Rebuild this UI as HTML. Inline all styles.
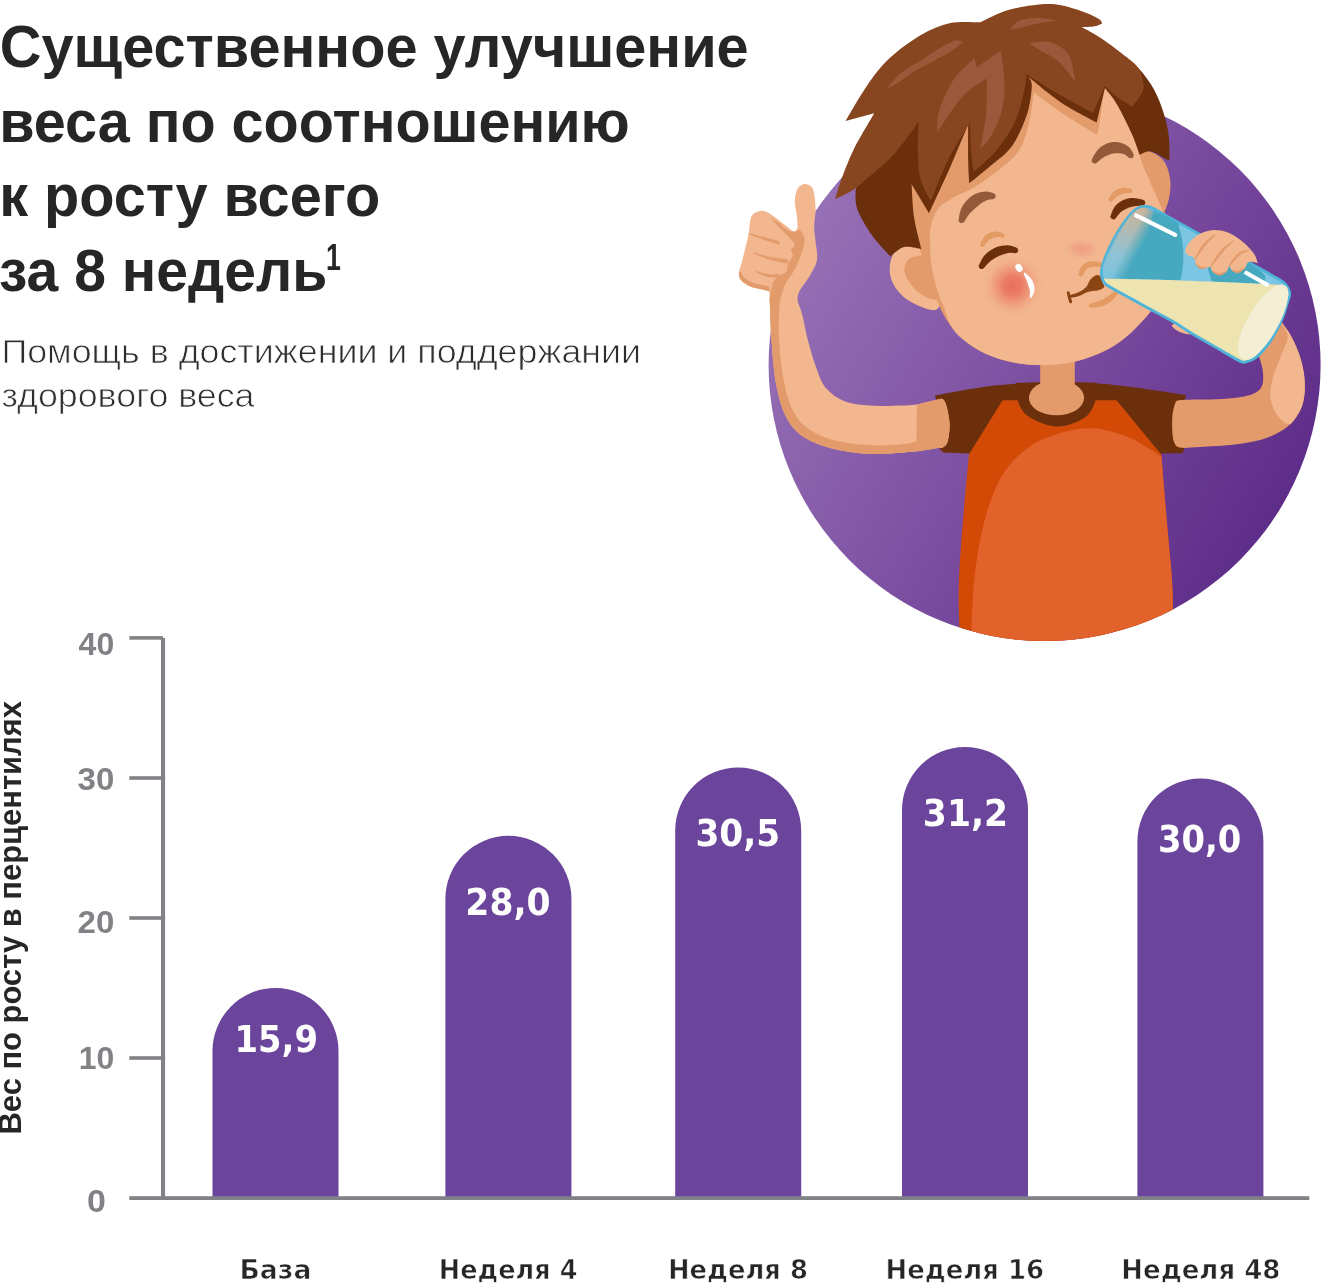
<!DOCTYPE html>
<html lang="ru"><head><meta charset="utf-8"><title>Существенное улучшение веса</title>
<style>html,body{margin:0;padding:0;background:#fff}body{width:1325px;height:1284px;overflow:hidden}svg{display:block}</style>
</head><body>
<svg width="1325" height="1284" viewBox="0 0 1325 1284">
<rect width="1325" height="1284" fill="#fff"/>
<defs>
<linearGradient id="cg" gradientUnits="userSpaceOnUse" x1="790" y1="240" x2="1290" y2="540"><stop offset="0" stop-color="#9772B6"/><stop offset="0.5" stop-color="#7B4DA0"/><stop offset="1" stop-color="#5B2A87"/></linearGradient>
<clipPath id="cc"><circle cx="1044.6" cy="365" r="276"/></clipPath>
<radialGradient id="blush"><stop offset="0" stop-color="#EA705C" stop-opacity="1"/><stop offset="0.3" stop-color="#EB7762" stop-opacity="0.92"/><stop offset="0.6" stop-color="#ED8A70" stop-opacity="0.5"/><stop offset="0.8" stop-color="#F09A7C" stop-opacity="0.18"/><stop offset="1" stop-color="#F2A283" stop-opacity="0"/></radialGradient>
<radialGradient id="nose"><stop offset="0" stop-color="#EF9982" stop-opacity="0.9"/><stop offset="0.5" stop-color="#F0A088" stop-opacity="0.65"/><stop offset="1" stop-color="#F2AE92" stop-opacity="0"/></radialGradient>
<linearGradient id="gl1" gradientUnits="userSpaceOnUse" x1="1146" y1="210" x2="1112" y2="276"><stop offset="0" stop-color="#E0B697" stop-opacity="1"/><stop offset="0.35" stop-color="#C2BDB2" stop-opacity="1"/><stop offset="0.7" stop-color="#9CC6D6" stop-opacity="1"/><stop offset="1" stop-color="#86C8E2" stop-opacity="1"/></linearGradient>
<linearGradient id="mkg" gradientUnits="userSpaceOnUse" x1="1116" y1="236" x2="1141" y2="249"><stop offset="0" stop-color="#fff" stop-opacity="0.55"/><stop offset="0.12" stop-color="#fff" stop-opacity="0.9"/><stop offset="0.5" stop-color="#fff" stop-opacity="0.85"/><stop offset="0.98" stop-color="#fff" stop-opacity="0"/></linearGradient>
<mask id="mk" maskUnits="userSpaceOnUse" x="1090" y="195" width="80" height="100"><rect x="1090" y="195" width="80" height="100" fill="url(#mkg)"/></mask>
</defs>
<circle cx="1044.6" cy="365" r="276" fill="url(#cg)"/>
<g clip-path="url(#cc)">
<path d="M934.8 395.4C942.9 394 967.5 389 983.4 386.9C999.2 384.8 1017.8 383.5 1029.9 382.7C1042 381.9 1046.2 382.2 1056 382.2C1065.8 382.2 1076.5 381.9 1089 382.7C1101.5 383.5 1115.1 384.8 1131.3 386.9C1147.5 388.9 1176.9 393.6 1186 395C1185.1 399.2 1180.8 410.8 1180.5 420C1180.2 429.2 1183.8 445 1184.5 450L1182 453.3L1161 453.6L968.6 453.6L943.2 452.6L939.5 448.8C939.8 444 942.3 428.9 941.5 420C940.7 411.1 935.9 399.5 934.8 395.4Z" fill="#6B2F0C" />
<path d="M1002.6 400.3L1116.5 400.3L1161.4 454.8C1161.8 459.7 1162.6 471.4 1163.7 484.3C1164.7 497.3 1166.4 516.4 1167.8 532.5C1169.2 548.5 1171.2 566.7 1172 580.6C1172.8 594.5 1173.1 603.6 1172.6 615.8C1172.2 628.1 1170 647.9 1169.4 654.3L960.9 654.3C960.6 646.3 958.9 621.2 958.7 606.2C958.5 591.3 958.8 581.1 959.7 564.5C960.6 548 962.6 525.2 964.2 506.8C965.7 488.4 968.2 463 969 454.2L1002.6 400.3Z" fill="#D24A05" />
<path d="M971.2 654.3C971.4 645.8 971.5 619.1 972.5 603C973.5 587 974.6 573.1 977 558.1C979.3 543.1 982.3 527.1 986.6 513.2C990.9 499.3 995.7 485.7 1002.6 474.7C1009.6 463.8 1018.7 454.4 1028.3 447.5C1037.9 440.5 1049.7 436.2 1060.4 433C1071.1 429.8 1081.8 427.8 1092.5 428.2C1103.1 428.6 1115.4 432.4 1124.5 435.6C1133.6 438.8 1140.8 444 1147 447.5C1153.1 450.9 1159 454.7 1161.4 456.1C1161.8 460.8 1162.6 471.6 1163.7 484.3C1164.7 497.1 1166.4 516.4 1167.8 532.5C1169.2 548.5 1171.2 566.7 1172 580.6C1172.8 594.5 1173.1 603.6 1172.6 615.8C1172.2 628.1 1170 647.9 1169.4 654.3L971.2 654.3Z" fill="#E2622B" />
</g>
<path d="M1016.1 382.7C1016.3 385.5 1015.4 394 1017.4 399.7C1019.4 405.3 1021.7 411.8 1028.3 416.3C1034.9 420.8 1047.7 426.5 1057.2 426.6C1066.7 426.7 1079 421.5 1085.4 417C1091.8 412.5 1093.7 405.4 1095.7 399.7C1097.6 393.9 1096.7 385.5 1096.9 382.7L1016.1 382.7Z" fill="#6B2F0C" />
<path d="M1040.2 352.8L1074.8 352.8L1074.8 397.7L1040.2 397.7L1040.2 352.8Z" fill="#E39B6B" />
<ellipse cx="1056.5" cy="397.7" rx="27.6" ry="17.6" fill="#E39B6B"/>
<path d="M805.9 184.2C807.7 184.5 810.5 185.2 812 187.2C813.4 189.2 813.9 192.4 814.5 196.3C815.1 200.2 815.6 205.4 815.5 210.5C815.5 215.5 814.2 221.6 814.2 226.7C814.2 231.7 815 236 815.5 240.9C816 245.7 817.3 251.8 817.2 256C817.2 260.2 816.7 262.1 815 266.2C813.3 270.2 809.5 276.3 806.9 280.3C804.4 284.4 801.4 287.2 799.8 290.4C798.3 293.7 797.2 295.9 797.6 300C798 304 800.6 307.9 802.2 314.5C803.9 321.1 805.4 330.7 807.7 339.4C810 348.2 812.9 358.8 816 366.9C819 375 821.1 382.3 825.9 388C830.7 393.8 837.3 398.3 844.6 401.2C851.9 404.2 861.2 404.7 869.5 405.5C877.8 406.2 886.6 405.9 894.5 405.7C902.3 405.6 909.8 405.5 916.9 404.5C923.9 403.5 932.4 400.6 936.8 399.8C941.2 398.9 941.5 398.2 943.2 399.6C944.9 401 945.9 403.8 947 408C948.1 412.2 949.5 419.3 949.6 425C949.7 430.6 948.7 438.1 947.5 441.9C946.3 445.6 944.3 446.4 942.5 447.5C940.7 448.6 941.5 447.7 936.8 448.3C932.1 449 924.8 450.6 914.4 451.6C904 452.5 887 454.3 874.5 454.1C862.1 453.9 850.8 452.8 839.6 450.3C828.4 447.9 816 444.3 807.2 439.1C798.5 433.9 792.5 428.3 787.3 419.2C782.1 410.1 778.8 398.4 776.1 384.3C773.4 370.2 772.1 348.2 771.1 334.5C770.1 320.7 770.1 309.2 769.8 302.1C769.6 294.9 770.7 293.6 769.5 291.5C768.2 289.4 765.6 290.3 762.4 289.4C759.2 288.6 753.8 287.9 750.2 286.4C746.7 284.9 743 282.5 741.1 280.3C739.2 278.1 738.7 276.4 738.9 273.2C739.1 270 740.6 267.3 742.1 261.1C743.7 254.9 746.9 242.5 748.2 235.8C749.6 229 749.5 224.1 750.2 220.6C751 217.1 751.3 216.1 752.8 214.5C754.2 213 756.8 211.8 758.8 211.3C760.9 210.8 762.6 210.6 764.9 211.3C767.2 212 769.2 213.3 772.5 215.5C775.8 217.8 781.1 222 784.7 224.7C788.2 227.3 791.6 230.7 793.8 231.2C795.9 231.8 797 228.5 797.6 227.9C797.5 225.8 797.3 220.1 796.8 215.5C796.3 211 794.7 204.8 794.8 200.4C794.9 196 796.2 191.8 797.3 189.2C798.4 186.7 799.9 186 801.4 185.2C802.8 184.3 804.1 183.8 805.9 184.2Z" fill="#F2B78E" />
<path d="M769.8 291.6L780.3 292.6C780.1 299.6 778.3 320 778.8 334.5C779.4 348.9 781.1 366.4 783.6 379.3C786 392.2 789 403.2 793.5 411.7C798.1 420.2 803.3 425.4 811 430.4C818.7 435.4 829 439.1 839.6 441.6C850.2 444.1 863.7 444.9 874.5 445.4C885.3 445.8 897.4 444.8 904.4 444.1C911.4 443.4 914.4 441.6 916.4 441.1L916.9 404.5C920.2 403.7 932.4 400.6 936.8 399.8C941.2 398.9 941.5 398.2 943.2 399.6C944.9 401 945.9 403.8 947 408C948.1 412.2 949.5 419.3 949.6 425C949.7 430.6 948.7 438.1 947.5 441.9C946.3 445.6 944.3 446.4 942.5 447.5C940.7 448.6 941.5 447.7 936.8 448.3C932.1 449 924.8 450.6 914.4 451.6C904 452.5 887 454.3 874.5 454.1C862.1 453.9 850.8 452.8 839.6 450.3C828.4 447.9 816 444.3 807.2 439.1C798.5 433.9 792.5 428.3 787.3 419.2C782.1 410.1 778.8 398.4 776.1 384.3C773.4 370.2 772.1 348.2 771.1 334.5C770.1 320.7 770.1 309.2 769.8 302.1C769.6 294.9 769.8 293.3 769.8 291.6Z" fill="#E39B6B" />
<path d="M770.5 217.4C771.8 218.2 775.9 220.6 778.6 222.6C781.3 224.7 784 228.2 786.7 229.7C789.4 231.3 792.6 231.9 794.8 231.9C797 231.9 798.2 228.6 799.8 229.7C801.4 230.9 804 235.3 804.4 238.8C804.8 242.4 804 245.9 802.4 251C800.8 256 797.7 263.5 794.8 269.2C791.8 274.9 787.1 280 784.7 285.4C782.2 290.8 780.9 298.9 780.1 301.6L769.3 301.6C769.6 299.9 770.3 294.8 771 291.5C771.7 288.1 772.3 283.8 773.5 281.3C774.8 278.8 776.4 278.2 778.6 276.5C780.8 274.8 785.1 273.4 786.7 271.2C788.2 269.1 786.9 266.2 787.9 263.6C788.9 261.1 792.2 258.3 792.8 256C793.3 253.8 790.7 251.8 791 250C791.4 248.1 794.8 246.7 794.8 244.9C794.7 243.1 793.4 242.1 790.7 239C788 236 782 230.3 778.6 226.7C775.2 223.1 771.8 218.9 770.5 217.4Z" fill="#E39B6B" />
<path d="M738.9 273.2C739.1 274.8 739.2 278.1 741.1 280.3C743 282.5 746.7 284.9 750.2 286.4C753.8 287.9 759.2 288.6 762.4 289.4C765.6 290.3 768.3 291.1 769.5 291.5L769.3 286.4C766.9 285.9 759.3 284.9 755.3 283.6C751.3 282.2 747.7 280.6 745.2 278.5C742.7 276.4 741 272.4 740.1 271.2C739.9 271.6 738.7 271.7 738.9 273.2Z" fill="#E39B6B" />
<path d="M749.7 233.3C752 233.9 758.6 235.7 763.4 237C768.2 238.3 775.7 239.7 778.4 241.1C781 242.4 779.1 244.3 779.2 244.9C776.6 244 768.3 241.4 763.4 239.6C758.5 237.9 752 235.4 749.7 234.6L749.7 233.3Z" fill="#E39B6B" />
<path d="M753.8 252.5C756.6 253.2 764.8 255.9 770.5 257C776.1 258.1 784.8 258.7 787.7 259.1L787.7 263.6C784.8 263 776.1 261.5 770.5 259.9C764.8 258.2 756.6 254.8 753.8 253.8L753.8 252.5Z" fill="#E39B6B" />
<path d="M755.8 270.7C757.9 271.3 764.5 273.7 768.5 274.3C772.4 274.8 777.7 274.3 779.6 274.3L779.6 278.1C777.7 277.9 772.4 278.1 768.5 277.1C764.5 276.1 757.9 272.9 755.8 272L755.8 270.7Z" fill="#E39B6B" />
<path d="M1179 400.3C1182.9 399.6 1191 399.7 1198.3 399.5C1205.5 399.3 1214.8 399.4 1222.5 398.9C1230.2 398.4 1238.6 397.6 1244.2 396.5C1249.8 395.4 1253.3 394.2 1256.3 392.3C1259.3 390.4 1261.2 388.5 1262.3 385.1C1263.4 381.7 1263.4 376.4 1262.9 371.8C1262.4 367.2 1261.5 364.3 1259.3 357.3C1257.1 350.3 1251.5 334.6 1250 330L1275 310C1276.3 312.2 1280.3 319.4 1282.8 323.5C1285.3 327.6 1287.5 329.5 1290.1 334.3C1292.7 339.1 1296.3 346.4 1298.5 352.5C1300.7 358.6 1302.4 364.6 1303.4 370.6C1304.5 376.6 1305 382.9 1304.8 388.7C1304.6 394.5 1303.8 400.6 1302.2 405.6C1300.6 410.6 1298.3 414.8 1294.9 418.9C1291.5 423 1287.5 427.1 1282 430.5C1276.5 433.9 1269.8 437.2 1262 439.5C1254.2 441.8 1245.3 443.2 1235 444.5C1224.7 445.8 1209.2 446.5 1200 447C1190.8 447.5 1184.3 448.4 1180 447.6C1175.7 446.8 1175.3 444.9 1174 442C1172.7 439.1 1172.5 434.5 1172.3 430C1172 425.5 1172 419.3 1172.5 415C1173 410.7 1173.9 406.4 1175 404C1176.1 401.6 1175.1 401.1 1179 400.3Z" fill="#E39B6B" />
<path d="M1281 322C1282.5 324.1 1287.2 329.2 1290.1 334.3C1293 339.4 1296.3 346.4 1298.5 352.5C1300.7 358.6 1302.4 364.6 1303.4 370.6C1304.5 376.6 1305 382.9 1304.8 388.7C1304.6 394.5 1303.8 400.6 1302.2 405.6C1300.6 410.6 1296.9 415.7 1294.9 418.9C1292.9 422.1 1290.8 423.7 1290 424.6C1288.8 424.1 1285.4 423.7 1282.8 421.3C1280.2 418.9 1276.5 414.8 1274.4 410.4C1272.3 406 1270.4 400.3 1270.2 394.7C1270 389.1 1271.5 382.8 1273.2 376.6C1274.9 370.4 1278 363.9 1280.4 357.3C1282.8 350.7 1287.6 342.7 1287.7 336.8C1287.8 330.9 1282.1 324.5 1281 322Z" fill="#F2B78E" />
<path d="M914.3 242.9C920.8 241.4 927.8 241 932.5 244.8C937.1 248.6 940.5 258.1 942.1 265.6C943.7 273.1 942.9 282.5 942.1 289.7C941.3 297 940.9 306.2 937.3 309.1C933.7 311.9 926.4 309.1 920.4 306.6C914.3 304.2 906.1 299.8 901.1 294.6C896 289.3 891.4 282.1 890.2 275.2C889 268.4 889.8 258.9 893.8 253.5C897.8 248.1 907.9 244.3 914.3 242.9Z" fill="#F2B78E" />
<path d="M920.4 255.4C925.2 254.4 933.5 251 937.3 253.5C941.1 256 942.5 263.6 943.3 270.4C944.1 277.3 943.9 289.7 942.1 294.6C940.3 299.4 936.9 300.2 932.5 299.4C928 298.6 920.2 294.2 915.5 289.7C910.9 285.3 905.9 277.9 904.7 272.8C903.5 267.8 905.7 262.4 908.3 259.5C910.9 256.6 915.5 256.4 920.4 255.4Z" fill="#E39B6B" />
<path d="M1135.3 152.1C1136.1 146 1145 150 1149.8 151.6C1154.6 153.2 1160.9 156.8 1164.3 161.7C1167.7 166.6 1169.7 174.2 1170.3 181.1C1170.9 187.9 1169.7 197.2 1167.9 202.8C1166.1 208.4 1163.3 217.3 1159.5 214.9C1155.6 212.5 1149 198.8 1145 188.3C1141 177.8 1134.5 158.2 1135.3 152.1Z" fill="#E39B6B" />
<path d="M907.8 164.2C904.2 184.3 909 187.5 910.7 200.4C912.4 213.3 914.5 227.3 918 241.4C921.4 255.5 926.8 272.4 931.2 284.9C935.7 297.4 939.5 307.4 944.5 316.3C949.6 325.2 954.6 331.8 961.4 338C968.3 344.3 976.7 349.6 985.6 353.7C994.4 357.8 1004.1 360.8 1014.6 362.7C1025 364.6 1037.9 365.4 1048.4 365.1C1058.8 364.8 1068.1 363.3 1077.4 361C1086.6 358.7 1096.3 354.9 1103.9 351.3C1111.6 347.7 1117.6 343.5 1123.2 339.2C1128.9 335 1132.9 331 1137.7 326C1142.6 320.9 1148 315.9 1152.2 309.1C1156.5 302.2 1160.5 295 1163.1 284.9C1165.7 274.8 1167.6 260.8 1167.9 248.7C1168.2 236.6 1167.8 223.7 1164.8 212.5C1161.8 201.2 1154.3 190.7 1149.8 181.1C1145.3 171.4 1141.8 167.4 1137.7 154.5C1133.7 141.6 1131.7 122.3 1125.7 103.8C1119.6 85.3 1121.6 54.3 1101.5 43.4C1081.4 32.5 1033.1 32.5 1004.9 38.6C976.7 44.6 948.6 58.7 932.5 79.6C916.3 100.6 911.4 144 907.8 164.2Z" fill="#E39B6B" />
<path d="M1163.1 284.9C1160.5 295 1156.5 302.2 1152.2 309.1C1148 315.9 1142.6 320.9 1137.7 326C1132.9 331 1128.9 335 1123.2 339.2C1117.6 343.5 1111.6 347.7 1103.9 351.3C1096.3 354.9 1086.6 358.7 1077.4 361C1068.1 363.3 1058.8 364.8 1048.4 365.1C1037.9 365.4 1025 364.6 1014.6 362.7C1004.1 360.8 994.4 357.8 985.6 353.7C976.7 349.6 967.4 343.1 961.4 338C955.5 333 952.8 328.9 949.8 323.5C946.9 318.2 945.4 310.9 943.5 306C941.6 301.1 940.5 300.5 938.5 294C936.5 287.5 933.1 275.9 931.7 267.1C930.3 258.3 930.1 248.2 930 241.4C929.9 234.6 929.6 231.6 930.8 226.3C932.1 220.9 933.8 214.1 937.4 209.4C941 204.8 946.1 202 952.3 198.2C958.6 194.5 966.7 192 974.8 187C982.9 182 993.5 174.5 1000.9 168.3C1008.4 162.1 1015 157.1 1019.6 149.6C1024.3 142.1 1026.6 133 1029 123.5C1031.3 114 1032.9 97.8 1033.6 92.6C1037.6 95.5 1049.4 104.4 1057.4 109.9C1065.4 115.4 1075 121.4 1081.7 125.6C1088.3 129.8 1094.8 133.4 1097.4 135C1098.2 129.9 1101.1 113.8 1102.2 104.7C1103.4 95.6 1104.1 84.4 1104.5 80.4L1124.7 93.5C1127.2 103.7 1135.6 140.8 1139.6 155.1C1143.7 169.5 1144.9 169.5 1149 179.4C1153 189.4 1160.8 203.4 1163.9 215C1167.1 226.5 1168.1 237 1167.9 248.7C1167.8 260.3 1165.7 274.8 1163.1 284.9Z" fill="#F2B78E" />
<path d="M1090 38C1100 39.3 1103 44 1110 48C1117 52 1125.3 55.7 1132.1 61.7C1138.9 67.7 1145.8 76.3 1150.8 84.1C1155.8 91.9 1159.1 100 1162.1 108.4C1165.1 116.8 1167.4 125.9 1168.6 134.6C1169.8 143.3 1169.3 156.3 1169.5 160.7C1168.9 160.4 1168.9 160.4 1165.8 158.9C1162.7 157.4 1155.2 152.1 1150.8 151.4C1146.4 150.7 1141.5 154.2 1139.6 154.8C1138.3 151.4 1135.8 142.9 1132.1 134.6C1128.4 126.2 1121.7 112.5 1117.2 104.7C1112.7 96.9 1107 90.7 1105 87.9L1096.6 122.4C1090.5 119 1071.5 109.5 1060.2 101.9C1048.9 94.4 1033.9 81.2 1028.6 77.1C1029.1 78.6 1032 79.9 1031.8 86.1C1031.5 92.3 1030.4 104.1 1027.1 114.1C1023.8 124.1 1018.3 137.2 1012.1 145.9C1005.9 154.6 996.9 160.2 989.7 166.4C982.6 172.6 972.6 180.5 969.2 183.3C969 179.6 968.4 170.6 968.2 160.8C968 151 968.2 130.5 968.2 124.4C965.2 131.4 957 151.6 950.5 166.4C944 181.2 932.6 205.4 929 213.2L911.6 184.2C912 189.6 912.4 206.1 914 216.9C915.6 227.7 920.1 243.7 921.3 249C918.4 248.7 909.3 245.8 904.1 247C898.9 248.2 892.6 254.8 890.3 256.4C887.3 252.9 877.8 243.5 872.3 235.7C866.8 227.9 860.2 217 857.4 209.5C854.6 202 855.8 193.9 855.5 190.8L874 125C886.7 114.2 920.7 74.2 950 60C979.3 45.8 1026.7 43.7 1050 40C1073.3 36.3 1080 36.7 1090 38Z" fill="#6B2F0C" />
<path d="M1050.9 4.1C1062.8 4.4 1073.8 8.8 1081.7 11.2C1089.6 13.6 1095.1 16.7 1098.5 18.7C1101.9 20.7 1101.6 22.6 1102.2 23.4C1101 23.9 1098.2 25.6 1094.8 26.2C1091.4 26.8 1083.9 27 1081.7 27.1C1085.4 29.3 1095.7 34.4 1104.1 40.2C1112.5 46 1126 56.6 1132.1 61.7C1138.2 66.8 1139.1 69.5 1140.5 71C1141 74.1 1144.8 83.8 1143.4 89.7C1142 95.6 1134 103.7 1132.1 106.5C1129.6 105 1121.7 100.6 1117.2 97.2C1112.7 93.8 1107 87.9 1105 86L1092.9 113.1C1087 109.8 1068.5 100 1057.4 93.5C1046.3 87 1031.4 77.2 1026.2 73.9C1026 75.9 1026.9 78.5 1025.2 86.1C1023.5 93.7 1020.6 109.1 1015.9 119.7C1011.2 130.3 1004.2 140.9 997.2 149.6C990.2 158.3 977.7 168.3 973.8 172.1C973.3 168.7 971.6 159.8 971 151.5C970.4 143.2 970.2 127.3 970.1 122.5C966.5 128.6 955.2 145.9 948.6 159C942 172.1 933.8 194 930.8 201C929.1 197.4 922.8 187.8 920.6 179.5C918.4 171.2 918.1 161.2 917.8 151.5C917.5 141.8 918.6 126.6 918.7 121.6C914.7 126.9 903.5 143.9 894.8 153.5C886.1 163.1 873.7 172.9 866.7 179C859.7 185.1 858.3 186.6 853 190C847.7 193.4 838 197.8 835 199.3C835.9 196.3 837.5 189.8 840.6 181.5C843.7 173.2 848 161.1 853.6 149.7C859.2 138.3 870.8 119.4 874.2 113.3L845.5 121C849 115.3 859.1 97.1 866.2 86.9C873.3 76.7 878.9 68.4 887.9 59.8C896.9 51.2 910.1 41.4 920.5 35.3C930.9 29.2 940.4 25.3 950.4 23.1C960.4 20.9 975.3 22.4 980.3 22.3C985.3 20.2 998.4 12.5 1010.2 9.5C1022 6.5 1039 3.8 1050.9 4.1Z" fill="#87461F" />
<path d="M886 89.5C888.5 86.8 895 77.9 901 73C907 68.1 915.2 64.2 921.7 60C928.2 55.8 934.5 51.2 940 48C945.5 44.8 951.1 41.5 955 40.5C958.9 39.5 962.1 41.8 963.5 42C961.2 43.7 954.7 49 950 52C945.3 55 941.3 56.8 935.5 60C929.7 63.2 921.1 67.3 915 71C908.9 74.7 903.8 78.9 899 82C894.2 85.1 888.2 88.2 886 89.5Z" fill="#99593A" />
<path d="M937.4 132.8C937.7 129.1 936.4 119.4 939.3 110.4C942.1 101.3 948.3 87.3 954.2 78.6C960.1 69.9 971.3 61.5 974.8 58L976.6 67.4L1000.9 50.6C1001.6 56.5 1004.7 75.5 1004.7 86.1C1004.7 96.7 1003.4 105.4 1000.9 114.1C998.4 122.8 993.1 132.6 989.7 138.4C986.3 144.2 981.9 147 980.4 148.7C981.3 142.9 984.9 125.8 986 114.1C987.1 102.4 986.8 84.5 986.9 78.6C983.3 81.1 972.1 87 965.4 93.6C958.7 100.1 951.4 111.3 946.7 117.9C942.1 124.4 938.9 130.3 937.4 132.8Z" fill="#99593A" />
<path d="M1029 43.1C1032.4 42.9 1043 40.3 1049.5 42.1C1056.1 44 1063.9 47.6 1068.2 54.3C1072.6 61 1074.5 77.7 1075.7 82.3C1072.9 78.9 1064.8 67.1 1058.9 61.8C1053 56.5 1045.2 53.7 1040.2 50.6C1035.2 47.4 1030.8 44.3 1029 43.1Z" fill="#99593A" />
<path d="M1010 30.2C1011 28.9 1013.1 24.4 1016.1 22.4C1019.1 20.4 1023.8 19 1028.3 18.3C1032.8 17.6 1038.6 17.9 1043.3 18.3C1048 18.7 1054 20.3 1056.2 20.7C1054 21 1048 21.8 1043.3 22.6C1038.6 23.5 1033.8 24.5 1028.3 25.8C1022.8 27.1 1013 29.5 1010 30.2Z" fill="#99593A" />
<path d="M961.7 219.9L962 219.5L962.4 218.9L962.8 218.2L963.3 217.4L963.8 216.6L964.3 215.7L964.9 214.8L965.5 213.9L966.2 213L966.8 212.2L967.4 211.4L968.1 210.8L968.7 210.1L969.5 209.3L970.3 208.6L971.1 207.8L971.9 207.1L972.7 206.3L973.6 205.5L974.4 204.8L975.2 204.1L976 203.4L976.7 202.8L977.4 202.2L978.1 201.7L978.8 201.2L979.5 200.7L980.2 200.3L980.9 199.8L981.6 199.4L982.3 199L983 198.7L983.7 198.3L984.4 198L985.1 197.7L985.7 197.4L986.3 197.1L986.9 196.9L987.6 196.8L988.2 196.6L988.9 196.5L989.5 196.4L990.1 196.3L990.7 196.3L991.3 196.2L991.8 196.2L992.2 196.1L992.5 196.1L992.5 196.1L992.2 196L991.8 195.9L991.3 195.7L990.8 195.6L990.2 195.4L989.6 195.2L988.9 195.1L988.2 194.9L987.5 194.8L986.7 194.7L985.9 194.7L985.1 194.7L984.4 194.8L983.6 194.9L982.7 195L981.9 195.1L981 195.3L980.1 195.5L979.1 195.8L978.2 196.1L977.3 196.5L976.3 196.9L975.4 197.4L974.4 198L973.5 198.6L972.6 199.3L971.7 200L970.8 200.8L969.9 201.7L969 202.6L968.2 203.5L967.4 204.5L966.7 205.5L966 206.4L965.3 207.4L964.8 208.4L964.2 209.5L963.8 210.5L963.4 211.7L963.1 212.8L962.8 213.9L962.6 215L962.3 216L962.2 217L962 217.9L961.9 218.7L961.8 219.4L961.7 219.9Z" fill="#935A3A" stroke="#935A3A" stroke-width="6.2" stroke-linejoin="round"/>
<path d="M1094.8 160.4L1095.2 160L1095.7 159.6L1096.3 159.1L1097 158.5L1097.7 157.9L1098.5 157.2L1099.3 156.6L1100.1 155.9L1100.9 155.3L1101.8 154.8L1102.6 154.3L1103.3 153.9L1104.1 153.5L1105 153.1L1105.9 152.7L1106.8 152.3L1107.7 152L1108.6 151.6L1109.5 151.3L1110.4 151L1111.3 150.8L1112.2 150.5L1113 150.4L1113.8 150.2L1114.6 150.1L1115.4 150.1L1116.2 150L1117.1 150L1118.1 150.1L1119 150.1L1119.9 150.2L1120.8 150.3L1121.7 150.4L1122.5 150.6L1123.3 150.7L1124.1 150.9L1124.7 151.1L1125.3 151.3L1126 151.6L1126.6 152L1127.3 152.4L1127.9 152.9L1128.5 153.4L1129 153.8L1129.5 154.2L1129.9 154.6L1130.3 154.9L1130.7 155.1L1130.7 155.1L1130.4 154.8L1130.2 154.4L1129.9 153.9L1129.6 153.3L1129.3 152.7L1128.9 152L1128.4 151.3L1127.9 150.6L1127.4 150L1126.7 149.3L1126 148.7L1125.3 148.2L1124.5 147.7L1123.7 147.3L1122.8 146.9L1121.8 146.5L1120.8 146.1L1119.8 145.8L1118.7 145.5L1117.6 145.3L1116.5 145.1L1115.4 145L1114.3 145L1113.1 145.1L1112 145.3L1110.9 145.5L1109.8 145.8L1108.7 146.2L1107.7 146.6L1106.6 147.1L1105.6 147.7L1104.6 148.2L1103.7 148.8L1102.8 149.5L1102 150.1L1101.2 150.8L1100.4 151.6L1099.6 152.4L1098.9 153.3L1098.3 154.2L1097.7 155.1L1097.1 156.1L1096.6 157L1096.1 157.8L1095.7 158.6L1095.4 159.3L1095 159.9L1094.8 160.4Z" fill="#935A3A" stroke="#935A3A" stroke-width="6.2" stroke-linejoin="round"/>
<path d="M981.7 266.1L982.1 265.8L982.4 265.3L982.9 264.8L983.4 264.2L983.9 263.5L984.5 262.9L985.1 262.2L985.8 261.5L986.4 260.8L987.1 260.2L987.7 259.6L988.4 259.1L989 258.5L989.8 258L990.5 257.5L991.3 257L992.1 256.5L992.9 256L993.7 255.5L994.5 255.1L995.3 254.6L996.2 254.2L997 253.8L997.7 253.4L998.5 253L999.4 252.7L1000.2 252.4L1001.1 252.1L1001.9 251.8L1002.8 251.5L1003.7 251.2L1004.5 251L1005.4 250.7L1006.2 250.5L1007 250.3L1007.7 250.2L1008.4 250.1L1009.1 250L1009.8 249.9L1010.6 249.9L1011.3 249.9L1012 250L1012.7 250L1013.3 250.1L1013.9 250.2L1014.4 250.2L1014.9 250.2L1015.2 250.3L1015.2 250.3L1014.9 250.2L1014.5 250L1014 249.8L1013.4 249.6L1012.8 249.4L1012.2 249.2L1011.5 248.9L1010.7 248.7L1010 248.5L1009.2 248.4L1008.4 248.3L1007.5 248.2L1006.7 248.2L1005.9 248.3L1005 248.3L1004 248.4L1003.1 248.5L1002.1 248.7L1001.1 248.8L1000.2 249.1L999.2 249.3L998.2 249.6L997.3 249.9L996.4 250.3L995.5 250.7L994.6 251.2L993.7 251.7L992.8 252.2L992 252.8L991.1 253.4L990.3 254L989.5 254.6L988.8 255.3L988 256L987.4 256.6L986.7 257.3L986.1 258.1L985.5 258.9L985 259.7L984.5 260.5L984 261.4L983.6 262.2L983.2 263.1L982.8 263.8L982.5 264.5L982.2 265.2L982 265.7L981.7 266.1Z" fill="#6B2F0C" stroke="#6B2F0C" stroke-width="5.8" stroke-linejoin="round"/>
<path d="M1113.4 216.4L1113.7 216L1114.1 215.5L1114.5 215L1115 214.3L1115.6 213.6L1116.2 212.9L1116.8 212.1L1117.4 211.4L1118.1 210.7L1118.7 210L1119.4 209.5L1120.1 209L1120.8 208.5L1121.5 208.1L1122.3 207.6L1123.1 207.2L1123.9 206.7L1124.8 206.3L1125.7 205.9L1126.5 205.5L1127.4 205.1L1128.3 204.8L1129.2 204.5L1130.1 204.2L1131 203.9L1132 203.7L1133.1 203.5L1134.3 203.4L1135.5 203.2L1136.7 203.1L1137.9 203L1139 202.8L1140.1 202.7L1141 202.6L1141.8 202.6L1142.4 202.5L1142.4 202.5L1141.8 202.4L1141 202.2L1140.1 202L1139.1 201.8L1138 201.6L1136.8 201.4L1135.5 201.2L1134.3 201.1L1133 201L1131.7 201L1130.5 201L1129.4 201.2L1128.3 201.4L1127.3 201.7L1126.2 202L1125.2 202.4L1124.2 202.8L1123.3 203.3L1122.3 203.8L1121.4 204.4L1120.6 205L1119.8 205.6L1119 206.3L1118.3 206.9L1117.6 207.7L1117 208.5L1116.4 209.4L1115.9 210.3L1115.4 211.3L1115 212.2L1114.7 213.1L1114.3 213.9L1114 214.7L1113.8 215.4L1113.6 216L1113.4 216.4Z" fill="#6B2F0C" stroke="#6B2F0C" stroke-width="5.8" stroke-linejoin="round"/>
<path d="M982.3 244.7L982.5 244.3L982.9 243.9L983.3 243.4L983.7 242.8L984.2 242.2L984.7 241.5L985.2 240.9L985.8 240.2L986.3 239.6L986.9 239.1L987.4 238.6L988 238.2L988.6 237.8L989.2 237.5L989.8 237.1L990.5 236.8L991.2 236.5L992 236.2L992.7 236L993.4 235.7L994.1 235.5L994.8 235.3L995.5 235.1L996.1 235L996.6 234.9L997.2 234.9L997.8 234.8L998.4 234.9L999 234.9L999.6 235L1000.2 235.1L1000.7 235.2L1001.2 235.3L1001.7 235.4L1002 235.4L1002.3 235.5L1002.3 235.5L1002 235.4L1001.7 235.2L1001.3 235.1L1000.8 234.9L1000.3 234.7L999.8 234.5L999.2 234.3L998.6 234.1L997.9 234L997.3 233.9L996.6 233.8L995.9 233.8L995.2 233.9L994.5 234L993.8 234.1L993 234.3L992.2 234.5L991.4 234.7L990.7 235L989.9 235.4L989.1 235.7L988.4 236.1L987.7 236.5L987.1 237L986.5 237.6L985.9 238.2L985.4 238.9L984.9 239.6L984.5 240.4L984.1 241.1L983.7 241.9L983.3 242.6L983 243.2L982.7 243.8L982.5 244.3L982.3 244.7Z" fill="#E39A63" stroke="#E39A63" stroke-width="4.4" stroke-linejoin="round"/>
<path d="M1110.7 199.5L1111 199.2L1111.3 198.9L1111.7 198.5L1112.2 198L1112.7 197.6L1113.2 197L1113.7 196.5L1114.3 196L1114.8 195.5L1115.4 195L1115.9 194.6L1116.4 194.3L1116.9 193.9L1117.5 193.6L1118.1 193.3L1118.7 193L1119.3 192.7L1119.9 192.5L1120.5 192.2L1121.1 191.9L1121.8 191.7L1122.4 191.5L1122.9 191.3L1123.5 191.2L1124.1 191.1L1124.7 191L1125.3 190.9L1125.9 190.9L1126.6 190.9L1127.2 190.9L1127.9 190.9L1128.5 191L1129 191L1129.5 191L1129.9 191.1L1130.3 191.1L1130.3 191.1L1129.9 191L1129.5 190.9L1129.1 190.7L1128.5 190.6L1128 190.4L1127.3 190.3L1126.7 190.1L1126 190L1125.3 189.9L1124.6 189.8L1124 189.8L1123.3 189.9L1122.6 190L1122 190.1L1121.3 190.3L1120.6 190.5L1120 190.7L1119.3 191L1118.6 191.3L1118 191.6L1117.3 191.9L1116.7 192.3L1116.1 192.7L1115.6 193.1L1115 193.6L1114.5 194.1L1114 194.7L1113.5 195.3L1113 195.9L1112.6 196.6L1112.2 197.2L1111.8 197.8L1111.5 198.3L1111.2 198.8L1110.9 199.2L1110.7 199.5Z" fill="#E39A63" stroke="#E39A63" stroke-width="4.4" stroke-linejoin="round"/>
<circle cx="1012.9" cy="285.7" r="32" fill="url(#blush)"/>
<ellipse cx="1081.7" cy="249" rx="18.5" ry="11" fill="url(#nose)"/>
<ellipse cx="1019" cy="267.9" rx="3.3" ry="4.2" transform="rotate(-35 1019 267.9)" fill="#fff"/>
<path d="M1024.5 273.5L1024.7 274L1024.9 274.5L1025.2 275.2L1025.5 275.9L1025.9 276.7L1026.3 277.5L1026.6 278.3L1027 279.2L1027.4 280L1027.7 280.8L1028 281.5L1028.2 282.2L1028.5 282.8L1028.7 283.5L1028.9 284.2L1029.1 284.9L1029.4 285.5L1029.6 286.2L1029.8 286.9L1030 287.5L1030.2 288.2L1030.4 288.8L1030.5 289.4L1030.6 289.9L1030.8 290.5L1030.8 291.1L1030.9 291.8L1030.9 292.4L1030.9 293.1L1030.8 293.8L1030.8 294.5L1030.8 295.1L1030.7 295.7L1030.7 296.3L1030.7 296.7L1030.7 297.1L1030.7 297.1L1030.8 296.7L1031 296.4L1031.3 295.9L1031.6 295.4L1031.9 294.8L1032.2 294.2L1032.6 293.5L1032.9 292.8L1033.1 292.1L1033.4 291.4L1033.5 290.6L1033.6 289.8L1033.7 289.1L1033.6 288.3L1033.6 287.5L1033.5 286.8L1033.4 286L1033.2 285.2L1033 284.4L1032.7 283.6L1032.5 282.9L1032.1 282.1L1031.8 281.4L1031.4 280.7L1030.9 279.9L1030.4 279.2L1029.8 278.5L1029.1 277.7L1028.5 277.1L1027.8 276.4L1027.1 275.8L1026.5 275.2L1025.9 274.7L1025.3 274.2L1024.9 273.8L1024.5 273.5Z" fill="#fff" stroke="#fff" stroke-width="1.8" stroke-linejoin="round"/>
<path d="M1080.6 274.5L1080.8 274.2L1081 273.7L1081.3 273.2L1081.6 272.6L1082 271.9L1082.3 271.3L1082.7 270.6L1083.1 269.9L1083.5 269.3L1083.9 268.7L1084.3 268.2L1084.8 267.8L1085.2 267.5L1085.7 267.1L1086.2 266.8L1086.8 266.5L1087.4 266.3L1088 266L1088.6 265.8L1089.2 265.6L1089.9 265.4L1090.5 265.2L1091.2 265L1091.8 264.9L1092.5 264.8L1093.2 264.7L1094 264.6L1094.9 264.6L1095.8 264.6L1096.6 264.6L1097.5 264.6L1098.3 264.6L1099 264.6L1099.7 264.6L1100.2 264.6L1100.7 264.6L1100.7 264.6L1100.2 264.5L1099.7 264.4L1099 264.3L1098.3 264.1L1097.5 264L1096.7 263.8L1095.8 263.7L1094.9 263.5L1094.1 263.4L1093.2 263.4L1092.4 263.4L1091.6 263.5L1090.9 263.6L1090.2 263.7L1089.4 263.9L1088.7 264.1L1088 264.3L1087.4 264.5L1086.7 264.8L1086.1 265.2L1085.5 265.5L1084.9 265.9L1084.3 266.4L1083.8 266.9L1083.4 267.4L1082.9 268.1L1082.6 268.8L1082.2 269.5L1081.9 270.2L1081.7 271L1081.4 271.7L1081.2 272.4L1081 273.1L1080.9 273.7L1080.7 274.2L1080.6 274.5Z" fill="#E39A63" stroke="#E39A63" stroke-width="4.4" stroke-linejoin="round"/>
<path d="M1090.9 305.7L1091.4 305.6L1092.2 305.6L1093 305.5L1094 305.4L1095 305.3L1096.1 305.2L1097.3 305L1098.4 304.9L1099.5 304.7L1100.6 304.4L1101.6 304.2L1102.6 303.9L1103.4 303.5L1104.3 303.1L1105.1 302.7L1105.9 302.3L1106.6 301.8L1107.3 301.3L1108 300.8L1108.7 300.3L1109.4 299.8L1110 299.3L1110.6 298.8L1111.1 298.3L1111.7 297.8L1112.2 297.2L1112.8 296.6L1113.3 296.1L1113.8 295.5L1114.2 294.9L1114.6 294.4L1115 293.8L1115.4 293.4L1115.7 292.9L1116 292.6L1116.2 292.3L1116.2 292.3L1115.9 292.5L1115.6 292.8L1115.2 293.2L1114.8 293.6L1114.3 294L1113.8 294.5L1113.2 295L1112.7 295.4L1112.1 295.9L1111.5 296.4L1110.9 296.8L1110.3 297.3L1109.7 297.7L1109.1 298.1L1108.4 298.5L1107.7 299L1107.1 299.4L1106.4 299.9L1105.7 300.3L1105 300.7L1104.2 301.1L1103.5 301.5L1102.7 301.9L1102 302.3L1101.1 302.6L1100.2 302.9L1099.2 303.3L1098.1 303.6L1097 303.9L1095.9 304.2L1094.9 304.5L1093.9 304.8L1092.9 305.1L1092.1 305.3L1091.4 305.5L1090.9 305.7Z" fill="#E39A63" stroke="#E39A63" stroke-width="4.4" stroke-linejoin="round"/>
<path d="M1068.2 292.7C1068.4 293.5 1068.9 295.7 1069.3 297.2C1069.7 298.8 1070.4 301 1070.6 301.8" fill="none" stroke="#8A4513" stroke-width="3" stroke-linecap="round"/>
<path d="M1069.7 295.2C1071.3 294.7 1076.2 293.5 1079 292.1C1081.8 290.7 1084.5 288.9 1086.4 286.8C1088.3 284.7 1088.7 281.6 1090.4 279.6C1092.2 277.6 1095.2 275.4 1097 275.1C1098.8 274.7 1100.3 276.2 1101.2 277.5C1102.2 278.8 1102.2 281.4 1102.7 283C1103.2 284.5 1104.8 285.7 1104.2 286.9C1103.6 288.1 1101 289.3 1099.1 290C1097.2 290.7 1094.9 290.7 1092.8 291.1C1090.6 291.5 1088.7 291.7 1086.4 292.5C1084.1 293.3 1081.7 295.2 1079 296.1C1076.3 297 1071.8 297.7 1070.4 298L1069.7 295.2Z" fill="#8A4513" />
<path d="M1172.3 324.9C1173.1 324.1 1175.7 322.1 1177.8 322.3C1179.9 322.4 1182.8 324 1185 325.9C1187.2 327.7 1190.6 332 1190.8 333.4C1191 334.7 1188.4 334.4 1186.2 334C1184.1 333.6 1180 332.1 1177.8 331C1175.6 329.9 1173.8 328.3 1172.9 327.3C1172 326.3 1171.5 325.8 1172.3 324.9Z" fill="#F2B78E" />
<path d="M1181.6 323.7C1181.4 322.9 1183.5 324.3 1185 325.9C1186.5 327.5 1190.3 332 1190.8 333.4C1191.3 334.7 1188.8 334.3 1188 333.9C1187.3 333.4 1187.3 332.4 1186.2 330.7C1185.2 329 1181.8 324.5 1181.6 323.7Z" fill="#E39B6B" />
<path d="M1144.5 206.4C1146.6 206.3 1147.4 205.9 1150.9 207.4C1154.4 208.9 1157.5 210.9 1165.7 215.4C1173.9 219.9 1186.3 226.7 1200 234.4C1213.7 242.1 1235.1 254.6 1247.6 261.7C1260.1 268.8 1269.1 273.7 1275.1 277.1C1281.1 280.5 1281.4 280.6 1283.5 282.3C1285.6 284.1 1286.8 285.7 1287.8 287.6C1288.8 289.6 1289.8 291.6 1289.8 294C1289.8 296.4 1289.1 297.4 1287.7 301.7C1286.3 306 1284.4 313.4 1281.6 319.9C1278.8 326.3 1275 334.2 1270.8 340.4C1266.6 346.6 1260.5 353.7 1256.3 357.3C1252.1 360.9 1248.2 361.5 1245.4 362.1C1242.6 362.7 1243.2 362.7 1239.4 360.9C1235.6 359.1 1230.5 355.8 1222.5 351.2C1214.5 346.6 1199.1 337.9 1191.1 333.1C1183 328.3 1181.5 326.6 1174.2 322.3C1166.9 318 1155.5 312.1 1147 307.5C1138.5 302.9 1130 298.2 1123.4 294.6C1116.8 291 1110.8 287.7 1107.5 285.6C1104.2 283.5 1104.9 283.4 1103.9 281.9C1102.9 280.4 1102.1 278.7 1101.7 276.6C1101.3 274.5 1101.2 272 1101.7 269.2C1102.2 266.4 1103.1 263.4 1104.4 259.7C1105.7 256 1107.6 251.5 1109.7 247.1C1111.8 242.7 1114.5 237.7 1117.1 233.3C1119.7 228.9 1122.9 224.2 1125.5 220.6C1128.1 217 1130.8 213.8 1132.9 211.7C1135 209.6 1136.3 208.9 1138.2 208C1140.1 207.1 1142.4 206.5 1144.5 206.4Z" fill="#7CC6E4" stroke="#4FB4D8" stroke-width="2.8"/>
<path d="M1145 208C1149.5 209.2 1160.2 213.7 1165.7 216.3C1171.2 218.9 1176.2 222.6 1178.3 223.8C1179 227 1181.8 236.1 1182.6 242.8C1183.4 249.5 1183.4 257.8 1183.1 264C1182.8 270.2 1180.9 277.5 1180.5 280.2L1104 278.3C1103.8 276.8 1102.4 272.3 1102.6 269.2C1102.8 266.1 1104 263.4 1105.3 259.7C1106.6 256 1108.5 251.5 1110.6 247.1C1112.7 242.7 1115.4 237.7 1118 233.3C1120.6 228.9 1123.8 224.4 1126.4 220.9C1129 217.4 1131.5 214.5 1133.5 212.5C1135.5 210.5 1136.7 209.8 1138.6 209C1140.5 208.2 1140.5 206.8 1145 208Z" fill="#46A9BF" />
<path d="M1206.9 265.4L1211.7 281.8L1263.5 283.7C1263.6 282.3 1267 278.4 1264.5 274.9C1262.1 271.5 1251.3 264.8 1248.7 262.8L1239.2 260.2L1206.9 265.4Z" fill="#46A9BF" />
<path d="M1145 208C1147.5 208.5 1152.1 211.3 1153.5 212C1152.7 215.4 1150.9 225.7 1148.8 232.3C1146.6 238.8 1143.6 245.6 1140.8 251.3C1138.1 256.9 1135.3 261.6 1132.4 266.1C1129.5 270.5 1124.9 276 1123.4 278L1104 278.3C1103.8 276.8 1102.4 272.3 1102.6 269.2C1102.8 266.1 1104 263.4 1105.3 259.7C1106.6 256 1108.5 251.5 1110.6 247.1C1112.7 242.7 1115.4 237.7 1118 233.3C1120.6 228.9 1123.8 224.4 1126.4 220.9C1129 217.4 1131.5 214.5 1133.5 212.5C1135.5 210.5 1136.7 209.8 1138.6 209C1140.5 208.2 1142.5 207.5 1145 208Z" fill="url(#gl1)" mask="url(#mk)"/>
<path d="M1103.9 278.5C1116.6 278.8 1155 279.6 1180 280.4C1205 281.2 1237.4 282.6 1254 283.4C1270.6 284.2 1275.2 284.7 1279.5 285C1280.6 285.6 1284.5 286.9 1286 288.5C1287.5 290.1 1288.3 292.3 1288.3 294.5C1288.3 296.7 1287.5 297.6 1286.2 301.7C1284.9 305.8 1283 313.1 1280.2 319.4C1277.4 325.7 1273.7 333.5 1269.6 339.6C1265.5 345.7 1259.6 352.3 1255.6 355.8C1251.6 359.3 1248 359.8 1245.4 360.4C1242.8 361 1243.7 361.1 1240 359.3C1236.3 357.5 1231 354.3 1223 349.7C1215 345.1 1199.8 336.5 1191.8 331.7C1183.8 326.9 1182.4 325.3 1175 321C1167.6 316.7 1156 310.7 1147.5 306C1139 301.3 1130.5 296.6 1124 293C1117.5 289.4 1111.7 286.1 1108.5 284.2C1105.3 282.2 1105.6 281.8 1105 281.3L1103.9 278.5Z" fill="#EDE4B0" />
<path d="M1279.2 284.8C1275.7 285.8 1270.3 289.1 1265.9 293.3C1261.5 297.5 1256.6 304 1252.6 310.2C1248.6 316.4 1244.2 324.9 1241.8 330.7C1239.4 336.5 1238.6 341.2 1238.2 345.2C1237.8 349.2 1238.2 352.4 1239.4 354.9C1240.6 357.3 1242.6 359.9 1245.4 359.9C1248.2 359.9 1252 358.5 1256.3 354.9C1260.5 351.3 1266.3 344.6 1270.8 338.2C1275.2 331.8 1280 322.9 1282.8 316.2C1285.7 309.5 1287.3 302.9 1288 298.1C1288.7 293.3 1288.5 289.7 1287.1 287.5C1285.6 285.3 1282.7 283.8 1279.2 284.8Z" fill="#F4EFD4" />
<path d="M1136.1 215.4C1142.6 218.7 1168.7 231.7 1175.2 234.9" fill="none" stroke="#fff" stroke-width="4.2" stroke-linecap="round"/>
<path d="M1244.7 272C1248.7 274.2 1264.5 283.2 1268.5 285.5" fill="none" stroke="#fff" stroke-width="4.2"/>
<path d="M1185.3 251.7C1185.1 250 1186.2 247.5 1187.4 245.4C1188.6 243.2 1190.4 241 1192.7 239C1195 237 1197.4 234.7 1201.1 233.2C1204.8 231.7 1210.1 230 1214.9 230C1219.6 230 1224.7 231 1229.7 233.2C1234.6 235.4 1240.4 239.8 1244.5 243.2C1248.5 246.7 1251.7 250.5 1254 253.8C1256.2 257.1 1257.3 261.6 1258 263.1C1256.4 262.9 1250.9 261.1 1248.7 262.1C1246.5 263 1246.5 266.9 1244.7 268.6C1242.8 270.3 1239.7 272.1 1237.6 272.4C1235.4 272.7 1233.2 271.4 1231.8 270.3C1230.4 269.2 1229.7 266.4 1229.2 265.6C1228.8 266.7 1228.1 270.3 1226.5 271.8C1224.9 273.3 1221.9 274.7 1219.6 274.7C1217.3 274.8 1214.3 273.3 1212.8 272C1211.3 270.6 1211 267.6 1210.6 266.7C1210 266.9 1208.6 267.5 1206.9 267.8C1205.3 268 1202.4 268.9 1200.6 268.4C1198.8 267.9 1197 266.1 1196.1 264.6C1195.1 263.1 1195 260.2 1194.8 259.3C1194.3 258.8 1192.7 256.8 1191.6 256.1C1190.6 255.5 1189.5 256.1 1188.5 255.4C1187.4 254.7 1185.5 253.4 1185.3 251.7Z" fill="#F2B78E" />
<path d="M1194.8 259.3L1195.3 258.6L1195.9 257.7L1196.7 256.7L1197.5 255.5L1198.4 254.3L1199.3 253L1200.3 251.6L1201.2 250.2L1202.2 248.9L1203.1 247.6L1204 246.3L1204.8 245.3L1205.7 244.3L1206.6 243.2L1207.5 242.2L1208.5 241.2L1209.5 240.2L1210.4 239.2L1211.4 238.3L1212.3 237.4L1213.1 236.6L1213.8 235.9L1214.4 235.3L1214.9 234.8L1214.9 234.8L1214.3 235.2L1213.6 235.8L1212.8 236.4L1211.9 237L1210.9 237.8L1209.9 238.6L1208.8 239.5L1207.8 240.4L1206.7 241.3L1205.7 242.3L1204.7 243.4L1203.8 244.4L1202.9 245.5L1202 246.8L1201.1 248.1L1200.2 249.5L1199.3 251L1198.5 252.4L1197.7 253.9L1197 255.2L1196.3 256.5L1195.7 257.6L1195.2 258.6L1194.8 259.3Z" fill="#E39B6B" stroke="#E39B6B" stroke-width="1.2" stroke-linejoin="round"/>
<path d="M1210.6 266.7L1211.3 266L1212 265L1212.9 263.8L1213.9 262.6L1215 261.2L1216.2 259.7L1217.3 258.2L1218.5 256.7L1219.7 255.2L1220.8 253.8L1221.8 252.5L1222.8 251.3L1223.7 250.2L1224.7 249.2L1225.7 248.1L1226.8 247.1L1227.8 246.1L1228.8 245.2L1229.7 244.3L1230.6 243.5L1231.5 242.7L1232.2 242L1232.9 241.4L1233.4 240.9L1233.4 240.9L1232.8 241.3L1232.1 241.9L1231.3 242.4L1230.4 243.1L1229.4 243.8L1228.3 244.6L1227.2 245.5L1226.1 246.4L1224.9 247.3L1223.8 248.3L1222.8 249.3L1221.8 250.4L1220.7 251.6L1219.7 252.9L1218.6 254.4L1217.5 255.9L1216.4 257.5L1215.3 259.1L1214.3 260.7L1213.4 262.2L1212.6 263.6L1211.8 264.8L1211.2 265.9L1210.6 266.7Z" fill="#E39B6B" stroke="#E39B6B" stroke-width="1.2" stroke-linejoin="round"/>
<path d="M1229.2 265.6L1229.8 265.1L1230.4 264.4L1231.2 263.5L1232.1 262.5L1233 261.5L1234 260.4L1235 259.3L1236 258.2L1237 257.1L1237.9 256.1L1238.8 255.3L1239.6 254.5L1240.4 254L1241.2 253.4L1242 253L1242.9 252.5L1243.8 252.2L1244.6 251.8L1245.5 251.5L1246.3 251.3L1247 251L1247.7 250.8L1248.2 250.6L1248.7 250.4L1248.7 250.4L1248.2 250.5L1247.6 250.6L1246.9 250.7L1246.2 250.9L1245.3 251L1244.4 251.2L1243.5 251.4L1242.6 251.6L1241.6 252L1240.6 252.4L1239.7 252.9L1238.8 253.5L1237.9 254.2L1236.9 255.1L1236 256.2L1235 257.3L1234.1 258.5L1233.2 259.7L1232.3 260.9L1231.6 262.1L1230.8 263.2L1230.2 264.2L1229.7 265L1229.2 265.6Z" fill="#E39B6B" stroke="#E39B6B" stroke-width="1.2" stroke-linejoin="round"/>
<path d="M1195.8 263.8L1196 264.1L1196.3 264.4L1196.5 264.8L1196.8 265.2L1197.1 265.7L1197.5 266.2L1197.9 266.7L1198.3 267.2L1198.8 267.6L1199.3 268L1199.8 268.3L1200.4 268.5L1201 268.7L1201.6 268.7L1202.2 268.7L1202.9 268.6L1203.5 268.5L1204.1 268.3L1204.7 268.1L1205.3 267.9L1205.8 267.7L1206.3 267.6L1206.6 267.4L1206.9 267.3L1206.9 267.3L1206.6 267.3L1206.2 267.3L1205.7 267.3L1205.2 267.3L1204.6 267.3L1204 267.3L1203.4 267.3L1202.8 267.2L1202.2 267.2L1201.7 267.2L1201.2 267.1L1200.8 267L1200.5 266.9L1200.1 266.7L1199.6 266.4L1199.2 266.1L1198.7 265.8L1198.2 265.5L1197.7 265.1L1197.3 264.8L1196.8 264.5L1196.4 264.2L1196.1 264L1195.8 263.8Z" fill="#E39B6B" stroke="#E39B6B" stroke-width="0.8" stroke-linejoin="round"/>
<path d="M1213 271.6L1213.3 271.8L1213.6 272L1214 272.4L1214.5 272.8L1215.1 273.2L1215.6 273.6L1216.2 274L1216.9 274.3L1217.6 274.6L1218.2 274.9L1218.9 275.1L1219.6 275.1L1220.3 275L1221 274.9L1221.7 274.6L1222.4 274.3L1223.1 273.9L1223.7 273.5L1224.3 273L1224.9 272.6L1225.4 272.2L1225.8 271.9L1226.2 271.6L1226.5 271.4L1226.5 271.4L1226.1 271.5L1225.7 271.6L1225.1 271.8L1224.5 272L1223.9 272.3L1223.2 272.5L1222.5 272.8L1221.9 273L1221.2 273.2L1220.6 273.4L1220.1 273.5L1219.6 273.5L1219.1 273.5L1218.6 273.4L1218 273.3L1217.4 273.1L1216.8 272.9L1216.1 272.7L1215.5 272.4L1214.8 272.2L1214.3 272L1213.8 271.8L1213.3 271.7L1213 271.6Z" fill="#E39B6B" stroke="#E39B6B" stroke-width="0.8" stroke-linejoin="round"/>
<path d="M1232 269.9L1232.2 270L1232.5 270.3L1232.9 270.6L1233.3 270.9L1233.7 271.2L1234.2 271.6L1234.7 271.9L1235.2 272.2L1235.8 272.5L1236.4 272.7L1237 272.8L1237.7 272.8L1238.3 272.6L1239 272.4L1239.7 272.1L1240.4 271.7L1241 271.3L1241.7 270.8L1242.3 270.3L1242.8 269.9L1243.3 269.4L1243.8 269L1244.2 268.6L1244.5 268.4L1244.5 268.4L1244.1 268.5L1243.6 268.7L1243 268.9L1242.4 269.2L1241.8 269.5L1241.1 269.8L1240.4 270.1L1239.7 270.4L1239 270.7L1238.5 270.9L1237.9 271.1L1237.5 271.2L1237.1 271.2L1236.6 271.2L1236.2 271.2L1235.6 271.1L1235.1 270.9L1234.6 270.7L1234 270.6L1233.5 270.4L1233.1 270.2L1232.6 270.1L1232.3 269.9L1232 269.9Z" fill="#E39B6B" stroke="#E39B6B" stroke-width="0.8" stroke-linejoin="round"/>
<text x="-0.15" y="67.4" font-family="'Liberation Sans', sans-serif" font-weight="700" font-size="59" fill="#262626" textLength="748.78" lengthAdjust="spacingAndGlyphs">Существенное улучшение</text>
<text x="-0.80" y="141.6" font-family="'Liberation Sans', sans-serif" font-weight="700" font-size="59" fill="#262626" textLength="630.55" lengthAdjust="spacingAndGlyphs">веса по соотношению</text>
<text x="-0.81" y="216.2" font-family="'Liberation Sans', sans-serif" font-weight="700" font-size="59" fill="#262626" textLength="381.02" lengthAdjust="spacingAndGlyphs">к росту всего</text>
<text x="-1.03" y="290.5" font-family="'Liberation Sans', sans-serif" font-weight="700" font-size="59" fill="#262626" textLength="328.29" lengthAdjust="spacingAndGlyphs">за 8 недель</text>
<text x="326.03" y="269.5" font-family="'Liberation Sans', sans-serif" font-weight="700" font-size="36.3" fill="#262626" textLength="14.84" lengthAdjust="spacingAndGlyphs">1</text>
<text x="1.44" y="362.6" font-family="'Liberation Sans', sans-serif" font-weight="400" font-size="34" fill="#2e2e2e" textLength="639.66" lengthAdjust="spacingAndGlyphs" stroke="#fff" stroke-width="0.75">Помощь в достижении и поддержании</text>
<text x="1.45" y="406.8" font-family="'Liberation Sans', sans-serif" font-weight="400" font-size="34" fill="#2e2e2e" textLength="253.09" lengthAdjust="spacingAndGlyphs" stroke="#fff" stroke-width="0.75">здорового веса</text>
<g fill="#808285">
<rect x="161" y="638" width="4.1" height="562"/>
<rect x="129.3" y="1196.2" width="1180" height="3.8"/>
<rect x="129.3" y="636.1" width="33.7" height="3.6"/>
<rect x="129.3" y="776.2" width="33.7" height="3.6"/>
<rect x="129.3" y="916.2" width="33.7" height="3.6"/>
<rect x="129.3" y="1056.2" width="33.7" height="3.6"/>
</g>
<text x="78.60" y="654.7" font-family="'Liberation Sans', sans-serif" font-weight="700" font-size="31.7" fill="#808285" textLength="35.66" lengthAdjust="spacingAndGlyphs">40</text>
<text x="77.56" y="789.6" font-family="'Liberation Sans', sans-serif" font-weight="700" font-size="31.7" fill="#808285" textLength="36.75" lengthAdjust="spacingAndGlyphs">30</text>
<text x="77.56" y="933" font-family="'Liberation Sans', sans-serif" font-weight="700" font-size="31.7" fill="#808285" textLength="36.75" lengthAdjust="spacingAndGlyphs">20</text>
<text x="78.68" y="1069.3" font-family="'Liberation Sans', sans-serif" font-weight="700" font-size="31.7" fill="#808285" textLength="35.58" lengthAdjust="spacingAndGlyphs">10</text>
<text x="87.03" y="1211.5" font-family="'Liberation Sans', sans-serif" font-weight="700" font-size="31.7" fill="#808285" textLength="18.92" lengthAdjust="spacingAndGlyphs">0</text>
<path d="M212.5 1196.6 V1051 A63.0 63.0 0 0 1 338.5 1051 V1196.6 Z" fill="#6B449B"/>
<path d="M445.4 1196.6 V898.8 A63.0 63.0 0 0 1 571.4 898.8 V1196.6 Z" fill="#6B449B"/>
<path d="M675.2 1196.6 V830.5 A63.0 63.0 0 0 1 801.2 830.5 V1196.6 Z" fill="#6B449B"/>
<path d="M902 1196.6 V810 A63.0 63.0 0 0 1 1028 810 V1196.6 Z" fill="#6B449B"/>
<path d="M1137.4 1196.6 V841.4 A63.0 63.0 0 0 1 1263.4 841.4 V1196.6 Z" fill="#6B449B"/>
<text x="234.44" y="1052" font-family="'DejaVu Sans', 'Liberation Sans', sans-serif" font-weight="700" font-size="38" fill="#fff" textLength="83.53" lengthAdjust="spacingAndGlyphs">15,9</text>
<text x="239.44" y="1279" font-family="'DejaVu Sans', 'Liberation Sans', sans-serif" font-weight="700" font-size="26" fill="#262626" textLength="72.03" lengthAdjust="spacingAndGlyphs" stroke="#fff" stroke-width="0.7">База</text>
<text x="465.37" y="914.8" font-family="'DejaVu Sans', 'Liberation Sans', sans-serif" font-weight="700" font-size="38" fill="#fff" textLength="85.23" lengthAdjust="spacingAndGlyphs">28,0</text>
<text x="438.83" y="1279" font-family="'DejaVu Sans', 'Liberation Sans', sans-serif" font-weight="700" font-size="26" fill="#262626" textLength="138.66" lengthAdjust="spacingAndGlyphs" stroke="#fff" stroke-width="0.7">Неделя 4</text>
<text x="695.38" y="846.3" font-family="'DejaVu Sans', 'Liberation Sans', sans-serif" font-weight="700" font-size="38" fill="#fff" textLength="84.92" lengthAdjust="spacingAndGlyphs">30,5</text>
<text x="668.01" y="1279" font-family="'DejaVu Sans', 'Liberation Sans', sans-serif" font-weight="700" font-size="26" fill="#262626" textLength="139.88" lengthAdjust="spacingAndGlyphs" stroke="#fff" stroke-width="0.7">Неделя 8</text>
<text x="922.87" y="825.7" font-family="'DejaVu Sans', 'Liberation Sans', sans-serif" font-weight="700" font-size="38" fill="#fff" textLength="85.25" lengthAdjust="spacingAndGlyphs">31,2</text>
<text x="885.51" y="1279" font-family="'DejaVu Sans', 'Liberation Sans', sans-serif" font-weight="700" font-size="26" fill="#262626" textLength="158.49" lengthAdjust="spacingAndGlyphs" stroke="#fff" stroke-width="0.7">Неделя 16</text>
<text x="1158.03" y="852" font-family="'DejaVu Sans', 'Liberation Sans', sans-serif" font-weight="700" font-size="38" fill="#fff" textLength="83.34" lengthAdjust="spacingAndGlyphs">30,0</text>
<text x="1121.30" y="1279" font-family="'DejaVu Sans', 'Liberation Sans', sans-serif" font-weight="700" font-size="26" fill="#262626" textLength="159.10" lengthAdjust="spacingAndGlyphs" stroke="#fff" stroke-width="0.7">Неделя 48</text>
<text transform="translate(21.3 1132.5) rotate(-90)" x="-1.97" y="0" font-family="'Liberation Sans', sans-serif" font-weight="700" font-size="31.3" fill="#262626" textLength="433.34" lengthAdjust="spacingAndGlyphs">Вес по росту в перцентилях</text>
</svg>
</body></html>
